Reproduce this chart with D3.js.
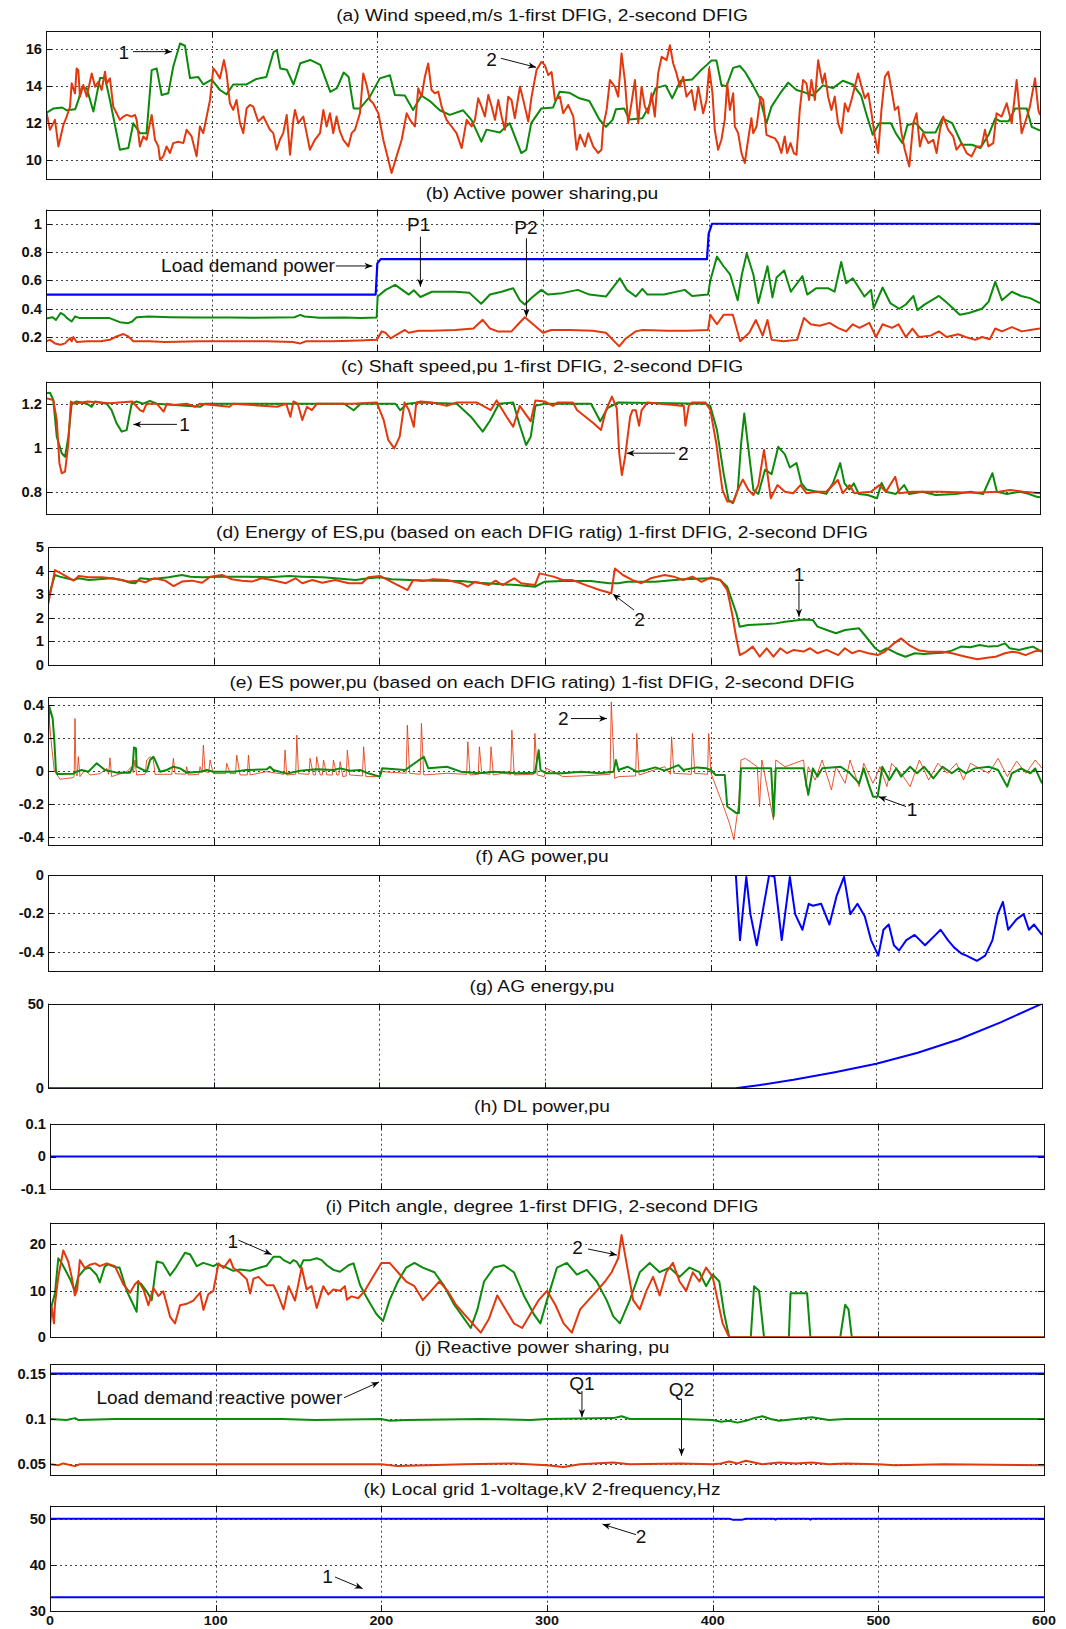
<!DOCTYPE html>
<html><head><meta charset="utf-8">
<script src="https://cdn.jsdelivr.net/npm/d3@7"></script>
<style>body{margin:0;background:#fff}svg{display:block}</style>
</head><body><svg id="c" width="1066" height="1629"></svg>
<script>
// ---------------- DATA ----------------
const timeTicks = [0,100,200,300,400,500,600];

// (a) wind speed, m/s
const windFirst = [[0,12.54],[4.6,12.8],[9.8,12.85],[12.5,12.7],[17.6,12.75],[19.6,13.26],[21.5,13.9],[24.6,13.9],[28.6,12.63],[32.6,14.45],[35.6,14.45],[38.6,13.26],[44.6,10.56],[49.7,10.65],[52.7,12.0],[56.7,11.46],[60.7,11.46],[63.8,14.88],[66.8,14.97],[69.8,13.53],[73.8,13.62],[76.8,15.06],[80.9,16.32],[83.9,16.2],[86.9,14.45],[91.9,14.5],[95,14.1],[100,14.36],[105,13.8],[109,13.56],[113,14.1],[121,14.1],[127,14.4],[133,14.5],[137.4,15.87],[139.4,15.95],[141.4,14.97],[145.4,14.9],[149.4,14.1],[153.5,15.25],[159.5,15.43],[165.6,15.16],[171.6,13.7],[175.6,13.9],[179.7,14.75],[182.7,14.5],[185.7,12.8],[189.5,12.8],[195.5,13.44],[201.5,14.43],[207.6,14.6],[210.6,13.53],[216.6,13.5],[221.6,12.72],[226.6,13.5],[231.7,13.2],[237.7,12.7],[243.7,12.45],[251.8,12.7],[256.8,12.18],[262.8,11.0],[265.9,11.65],[273.9,11.5],[279.9,12.0],[286.9,10.38],[289.9,10.55],[292.9,12.0],[299,12.8],[306,12.85],[310,13.7],[316,13.65],[322,13.35],[328,13.2],[334,12.2],[338,11.8],[342,12.18],[344,12.75],[349,12.8],[352,12.2],[360,12.27],[364,12.9],[368,13.9],[374,14.05],[378,13.35],[383,14.3],[390,14.37],[395,14.84],[398.7,15.15],[401.7,15.4],[404.7,15.4],[407.7,14.07],[410.7,14.0],[414.8,15.0],[418.8,15.1],[421.8,14.8],[425.8,14.2],[430.9,13.35],[434.9,12.0],[437.9,12.9],[443,13.6],[448,14.2],[453,13.8],[457,13.7],[463,13.5],[469,14.05],[475,13.9],[481,14.3],[487,14.1],[492,13.5],[495,12.55],[499,11.37],[503,12.0],[510,12.0],[513,11.45],[517,10.92],[520,11.9],[525,12.0],[530,11.5],[537,11.5],[541,12.26],[547,12.0],[553,10.83],[559,10.83],[564,10.65],[569,11.37],[573,12.26],[576,12.1],[581,12.1],[585,12.8],[592,12.8],[595,11.8],[600,11.6]];
const windSecond = [[0,12.72],[2.4,11.64],[5.4,12.18],[7.5,10.74],[10.5,11.91],[12.5,12.36],[14.5,12.9],[15.5,14.16],[17.5,13.62],[18.5,14.97],[19.5,14.88],[20.5,13.44],[22.5,14.07],[24.6,13.44],[27.6,14.7],[29.6,13.98],[31.6,14.25],[33.6,13.8],[35.6,14.79],[36.6,14.16],[38.6,14.43],[40.6,12.9],[42.6,12.54],[44.6,12.18],[46.7,12.36],[48.7,12.45],[51.7,12.36],[53.7,12.45],[54.7,12.18],[56.7,10.74],[58.7,11.28],[60.7,11.1],[63.8,12.45],[65.8,11.1],[67.8,10.74],[68.8,10.02],[70.8,10.2],[72.8,10.74],[74.8,10.38],[76.8,10.92],[79.9,10.99],[82.9,10.92],[84.9,11.64],[87.9,11.28],[90.9,10.2],[92.9,11.82],[94.9,11.46],[97,12.36],[99,13.26],[101,14.97],[102.6,14.79],[105,14.43],[107.4,15.42],[109,14.7],[111,13.08],[113,12.72],[115,13.26],[117.1,12.0],[119.1,11.46],[121.1,12.81],[123.1,12.99],[125.1,12.9],[128.1,12.09],[131.2,12.36],[133.2,12.0],[135.2,11.64],[137.2,11.46],[139.2,10.56],[141.2,11.1],[143.2,11.46],[145.3,12.45],[147.3,10.29],[149.3,12.18],[150.3,12.72],[152.3,12.0],[155.3,12.36],[157.3,11.46],[159.3,10.56],[162.3,11.1],[165.4,11.46],[167.4,12.72],[169.4,11.82],[171.4,12.54],[173.4,11.46],[175.4,12.36],[177.4,11.55],[179.5,11.1],[182.5,10.74],[184.5,11.46],[186.5,11.64],[189.5,12.54],[191.5,14.7],[193.5,14.07],[195.5,13.26],[197.5,13.08],[200.6,12.54],[203.6,11.1],[205.6,10.38],[208.6,9.3],[211.6,10.2],[214.7,11.1],[217.7,12.54],[219.7,12.18],[222.7,11.82],[224.7,13.89],[226.7,13.44],[228.7,14.52],[230.7,15.24],[232.7,13.8],[234.7,13.62],[236.8,13.71],[238.8,12.9],[241.8,12.18],[244.8,11.82],[247.8,11.46],[250.9,10.65],[253.9,12.18],[256.9,11.82],[258.9,12.18],[260.9,13.35],[262.9,12.9],[264.9,12.36],[267,13.53],[269,12.9],[271,12.18],[273,13.26],[275,12.36],[277,11.64],[279,13.44],[281,13.26],[283,12.27],[286.1,13.98],[288.1,13.26],[291.1,12.09],[293.1,13.44],[296.1,14.88],[299.1,15.33],[301.1,15.15],[303.2,14.61],[305.2,14.77],[307.2,13.26],[310.2,13.44],[312.2,12.54],[315.2,12.99],[318.3,12.36],[320.3,10.56],[322.3,11.37],[325.3,10.74],[327.3,11.46],[330.3,10.74],[333.3,10.38],[335.3,10.56],[336.3,11.82],[338.4,12.72],[340.4,14.34],[343.4,13.98],[345.4,13.44],[347.4,15.78],[349.4,14.34],[351.4,12.0],[353.4,13.08],[355.5,14.34],[357.5,12.0],[359.5,13.98],[361.5,12.9],[363.5,12.54],[365.5,13.62],[367.5,12.36],[369.5,14.7],[371.6,15.6],[374.6,15.42],[376.6,16.23],[378.6,15.24],[380.6,14.7],[382.6,13.98],[384.6,14.52],[386.6,13.44],[389.7,13.8],[391.7,12.72],[393.7,13.98],[396.7,12.54],[398.7,13.26],[400.3,14.97],[402.3,13.62],[403.7,11.64],[405.7,10.56],[407.7,11.1],[409.7,12.18],[411.2,14.16],[412.8,12.72],[414.8,13.62],[415.8,11.82],[417.8,11.46],[419.8,10.38],[421.8,9.84],[423.8,11.1],[425.8,12.27],[426.9,11.46],[428.9,11.82],[431.3,13.44],[432.9,13.26],[434.9,11.37],[436.9,11.28],[439.9,11.19],[441.9,10.92],[443.9,10.38],[445.9,11.28],[447.4,10.38],[449.4,10.92],[451.4,10.38],[453,10.29],[455,12.72],[457,14.34],[459,14.16],[460.6,13.26],[462,14.34],[464.1,13.26],[466.1,15.42],[467.5,14.7],[468.7,14.16],[470.1,14.7],[472.1,13.44],[474.1,12.72],[476.1,13.44],[478.1,12.0],[480.2,11.46],[482.2,13.08],[484.2,12.63],[486.2,13.26],[488.2,13.98],[490.2,14.7],[492.3,13.98],[494.3,13.35],[496.3,13.62],[498.3,12.54],[500.3,11.28],[502.3,10.38],[504.3,12.72],[506.4,14.52],[508.4,14.79],[510.4,13.8],[512.4,12.72],[514.4,12.9],[516.4,11.46],[518.4,10.56],[521.1,9.65],[523.5,12.0],[525.5,12.54],[527.5,10.74],[529.5,11.46],[532.6,10.92],[535.6,11.1],[537.6,10.38],[539.6,11.64],[541.6,12.36],[544.6,11.64],[547.6,11.28],[549.6,10.56],[552.7,10.92],[555.7,10.38],[558.7,10.2],[561.7,10.74],[564.7,10.74],[566.8,11.64],[568.8,10.74],[571.8,10.92],[573.8,12.54],[576.8,12.36],[579.9,13.08],[582.9,12.0],[585.9,14.34],[588.9,11.46],[590.9,12.0],[593.9,12.9],[597,14.43],[599,12.72],[600,12.45]];
const windTicks = [10,12,14,16];

// (b) active power sharing, pu
const loadDemandP = [[0,0.5],[199,0.5],[200,0.72],[202,0.75],[399,0.75],[400,0.93],[402,1.0],[600,1.0]];
const activeP1 = [[0,0.33],[4,0.34],[6,0.32],[8.8,0.37],[11,0.355],[12.5,0.335],[15.5,0.31],[17.5,0.345],[20,0.335],[30,0.335],[38,0.335],[44.6,0.305],[49.7,0.298],[52,0.31],[54.7,0.34],[62,0.345],[75,0.34],[90,0.338],[110,0.338],[125,0.336],[140,0.338],[150,0.34],[153.5,0.357],[156,0.345],[165,0.336],[180,0.338],[190,0.335],[199.6,0.338],[200.2,0.486],[205,0.533],[210.8,0.568],[215,0.533],[219,0.5],[222,0.53],[226,0.483],[233,0.52],[247,0.52],[255.6,0.512],[262.7,0.435],[268,0.5],[275,0.52],[282,0.545],[286,0.46],[289,0.43],[293,0.476],[299,0.533],[303,0.5],[311.5,0.51],[321,0.533],[328,0.5],[338,0.486],[346.4,0.615],[350.6,0.533],[356,0.486],[360,0.54],[363,0.5],[373,0.5],[385.6,0.533],[390,0.49],[399.6,0.5],[401,0.6],[405,0.768],[409,0.7],[413,0.64],[417.5,0.46],[420,0.64],[423,0.79],[427,0.64],[430,0.44],[435.5,0.7],[438.5,0.48],[441,0.62],[445.6,0.67],[449.6,0.52],[456.6,0.63],[459.5,0.5],[465,0.545],[472,0.545],[476,0.52],[480,0.73],[483,0.58],[487,0.615],[494,0.486],[498,0.533],[499.6,0.404],[505,0.55],[509.6,0.44],[515,0.4],[519,0.43],[523.6,0.49],[526,0.39],[530,0.427],[539,0.49],[544,0.44],[551.6,0.357],[557,0.37],[565,0.4],[569,0.45],[573,0.59],[577,0.46],[583,0.52],[588.6,0.49],[594,0.475],[600,0.44]];
const activeP2 = [[0,0.17],[2.4,0.18],[5.4,0.155],[8.8,0.146],[11.5,0.155],[14.5,0.192],[15.5,0.17],[16.5,0.2],[18.5,0.165],[25,0.17],[33,0.17],[38.6,0.181],[42.6,0.204],[46.7,0.221],[49.7,0.204],[52.7,0.17],[62,0.17],[72,0.165],[93,0.17],[113,0.17],[133,0.17],[149,0.165],[153.5,0.155],[157,0.17],[173,0.17],[189.5,0.175],[199.6,0.18],[202.7,0.24],[205,0.23],[208,0.19],[216.6,0.25],[219,0.23],[225,0.245],[233,0.245],[247,0.25],[258,0.26],[263.6,0.322],[268,0.26],[272.6,0.24],[281,0.24],[285,0.29],[289,0.34],[294,0.29],[300,0.23],[305,0.25],[316,0.25],[330,0.245],[338,0.23],[346,0.134],[350,0.19],[356,0.24],[360,0.25],[375,0.245],[387,0.245],[399.6,0.25],[401,0.357],[405,0.29],[409,0.357],[414.6,0.357],[419,0.17],[424.5,0.23],[428.5,0.32],[432.6,0.21],[435.5,0.32],[438,0.18],[445,0.17],[453.4,0.18],[457.5,0.334],[461.6,0.29],[467,0.28],[473,0.3],[478,0.265],[483,0.24],[487,0.29],[491,0.265],[497,0.3],[501,0.2],[505,0.29],[510.6,0.265],[514.6,0.29],[519,0.2],[523,0.26],[527,0.2],[534,0.21],[539,0.24],[543.6,0.2],[550.6,0.22],[555,0.2],[561,0.18],[565,0.2],[569.7,0.185],[573,0.26],[577,0.24],[583,0.27],[589,0.24],[594,0.25],[600,0.26]];
const activeTicks = [0.2,0.4,0.6,0.8,1];

// (c) shaft speed, pu
const shaftFirst = [[0,1.247],[2.4,1.25],[4.4,1.217],[6.5,1.05],[9.5,0.975],[11.5,0.959],[13.5,1.05],[15.5,1.2],[18.5,1.21],[24.6,1.2],[27.6,1.186],[29.6,1.21],[36.6,1.2],[39.6,1.171],[42.6,1.111],[45.7,1.073],[48.7,1.08],[51.7,1.2],[54.7,1.21],[58.7,1.2],[62.7,1.213],[66.8,1.2],[93,1.186],[96,1.2],[120,1.2],[150,1.2],[180,1.2],[185.7,1.17],[190,1.2],[211,1.2],[213.8,1.17],[218,1.2],[226,1.205],[248,1.2],[256.6,1.14],[263.6,1.073],[267.8,1.12],[273.4,1.2],[282,1.205],[285.6,1.11],[289.8,1.012],[292.6,1.05],[295.4,1.19],[301,1.2],[329,1.2],[334.6,1.12],[339,1.18],[345,1.205],[398,1.2],[401,1.19],[405,1.08],[409,0.884],[412,0.762],[414.6,0.748],[417.6,0.81],[419.6,1.02],[421.5,1.156],[423.6,1.02],[427,0.808],[430,0.79],[434,0.9],[438,0.88],[442,1.004],[446,0.97],[449,0.91],[453,0.93],[456,0.838],[459,0.81],[465.4,0.8],[471,0.79],[475,0.838],[479.4,0.93],[482,0.838],[485,0.81],[487.6,0.838],[490.6,0.79],[496,0.785],[501.6,0.77],[504.4,0.84],[507,0.8],[513,0.79],[518,0.83],[521,0.79],[529,0.8],[537,0.785],[549,0.79],[558,0.8],[565.7,0.79],[571.3,0.884],[574,0.8],[580,0.79],[588,0.8],[593,0.79],[598,0.777],[600,0.775]];
const shaftSecond = [[0,1.225],[4.4,1.217],[6.5,1.126],[8.1,0.929],[9.5,0.884],[11.5,0.891],[13.5,1.02],[15,1.21],[17,1.2],[25,1.21],[38.6,1.202],[52,1.21],[56.7,1.171],[58.7,1.164],[60.7,1.2],[66.8,1.2],[71,1.164],[73,1.2],[77,1.194],[85,1.2],[90,1.186],[93,1.2],[110.7,1.186],[113,1.2],[139.5,1.186],[145,1.2],[147.5,1.141],[149.4,1.21],[152,1.2],[154.7,1.126],[157.5,1.186],[160.5,1.171],[163.5,1.2],[185,1.2],[199.6,1.206],[203.8,1.126],[206.6,1.035],[210.2,0.997],[213.5,1.05],[216.4,1.206],[219,1.171],[222,1.095],[223.5,1.206],[226,1.21],[233,1.206],[242,1.19],[248,1.206],[260,1.206],[268.5,1.171],[272,1.215],[278,1.141],[282,1.095],[286,1.19],[292.6,1.12],[295.4,1.215],[301,1.21],[306,1.19],[309,1.206],[318,1.206],[320.5,1.171],[330.5,1.111],[335,1.08],[338,1.17],[341.6,1.232],[344.5,1.18],[346,0.975],[347.6,0.876],[349.6,0.96],[352.6,1.141],[354,1.17],[356,1.17],[358,1.1],[359.5,1.17],[363,1.206],[385,1.19],[386,1.1],[388,1.19],[390,1.206],[398,1.206],[401,1.171],[404.6,1.02],[408.3,0.808],[411.3,0.755],[415,0.755],[417.6,0.808],[420.6,0.855],[424,0.808],[427,0.785],[430,0.83],[433.4,0.99],[435.5,0.88],[437.5,0.77],[441.5,0.83],[446,0.8],[451,0.793],[455.4,0.83],[459,0.793],[465,0.8],[471,0.8],[478,0.853],[481,0.793],[485,0.83],[488,0.793],[498,0.8],[503,0.83],[507,0.8],[512.6,0.868],[515,0.793],[523,0.8],[540,0.8],[560,0.795],[575,0.8],[582,0.808],[590,0.8],[600,0.793]];
const shaftTicks = [0.8,1,1.2];

// (d) energy of ES, pu
const energyFirst = [[0,2.76],[2,3.3],[4.2,3.82],[7,3.75],[15.5,3.61],[18.5,3.68],[24.6,3.61],[30.6,3.64],[38.6,3.68],[44.6,3.61],[49.7,3.49],[52.7,3.47],[55.7,3.68],[62,3.64],[72.8,3.72],[80.9,3.82],[86,3.75],[93,3.72],[105,3.75],[113,3.75],[121,3.75],[133,3.72],[145.6,3.78],[153.5,3.75],[165.6,3.72],[173.4,3.68],[185.7,3.61],[193.3,3.68],[200.3,3.72],[207.3,3.64],[218.5,3.61],[232.4,3.58],[249.2,3.56],[260.4,3.49],[271.6,3.44],[282.8,3.39],[293.9,3.32],[299.5,3.53],[310.7,3.56],[327.5,3.56],[338.7,3.47],[344.3,3.47],[349.8,3.53],[366.6,3.53],[383.4,3.64],[400.2,3.68],[405.8,3.61],[410,3.32],[412.7,2.76],[415.5,2.19],[417.5,1.62],[422.5,1.69],[433.7,1.73],[439.3,1.76],[444.9,1.83],[456.1,1.93],[461.7,1.9],[464.5,1.62],[470.1,1.48],[475.6,1.34],[481.2,1.48],[489.6,1.55],[493.8,1.19],[499.4,0.7],[502.2,0.55],[506.4,0.7],[512.1,0.49],[517.6,0.34],[523.2,0.49],[528.8,0.46],[534.4,0.49],[540,0.51],[545.5,0.6],[551.1,0.77],[556.7,0.74],[562.3,0.84],[567.9,0.77],[573.5,0.8],[577.7,0.91],[580.5,0.7],[586.1,0.63],[590.3,0.7],[594.5,0.77],[598.7,0.6],[600,0.55]];
const energySecond = [[0,2.54],[4.2,4.03],[7.9,3.89],[15.5,3.58],[18.5,3.78],[24.6,3.72],[32.6,3.72],[38.6,3.68],[48.7,3.54],[54.7,3.58],[58.7,3.51],[63.8,3.68],[70.8,3.58],[75.8,3.35],[80.9,3.54],[86.9,3.58],[93,3.49],[98,3.75],[105,3.82],[111,3.64],[117,3.58],[123,3.54],[129,3.68],[135,3.61],[143.6,3.47],[149.4,3.68],[153.5,3.47],[159.5,3.61],[165.6,3.49],[173.4,3.61],[181.6,3.47],[189.5,3.47],[193.3,3.72],[200.3,3.78],[207.3,3.53],[217,3.18],[220.4,3.61],[226,3.56],[232.4,3.64],[240.8,3.61],[249.2,3.47],[253.4,3.32],[257.6,3.53],[266,3.39],[270.2,3.58],[274.4,3.39],[281.4,3.68],[285.6,3.47],[293.9,3.39],[296.7,3.89],[305.1,3.75],[310.7,3.61],[316.3,3.61],[324.7,3.39],[333,3.18],[340,3.04],[342.2,4.1],[347,3.82],[352.6,3.61],[358.2,3.47],[363.8,3.68],[372.2,3.82],[377.8,3.75],[383.4,3.61],[389,3.75],[394.5,3.53],[400.2,3.72],[405.8,3.61],[410,3.18],[412.9,2.19],[415.7,1.05],[417.6,0.41],[421.3,0.55],[425.4,0.77],[429.6,0.34],[433.8,0.7],[437.9,0.34],[442,0.7],[446.1,0.49],[450.2,0.63],[456,0.56],[460,0.7],[464.4,0.49],[470,0.63],[477,0.41],[481,0.7],[485.3,0.49],[489.6,0.6],[495.2,0.49],[500.8,0.41],[505,0.55],[510.7,0.91],[514.9,1.12],[520.5,0.8],[526,0.6],[531.7,0.55],[540,0.55],[545.6,0.49],[554,0.34],[561,0.23],[568,0.31],[572,0.34],[577.6,0.49],[582,0.55],[586,0.51],[590,0.41],[595.6,0.57],[600,0.6]];
const energyTicks = [0,1,2,3,4,5];

// (e) ES power, pu
const esPowerFirst = [[0,0.2],[0.8,0.39],[2.8,0.32],[3.8,0.19],[4.8,0.0],[5.6,-0.018],[15.3,-0.016],[17.3,-0.004],[20.3,0.006],[24.4,-0.004],[29.4,0.047],[31.4,0.03],[34.4,0.006],[41.5,-0.01],[49.5,-0.01],[51.1,0.026],[51.9,0.143],[53.1,0.137],[53.5,0.026],[59.6,-0.004],[61.6,0.067],[63.6,0.087],[64.6,0.067],[67.6,-0.004],[71.7,0.006],[75.7,0.026],[79.7,0.016],[83.7,-0.01],[91.8,-0.004],[95.8,0.006],[99.8,-0.004],[111.9,-0.004],[119.9,0.006],[132,0.01],[134,0.026],[136,0.006],[144.1,-0.016],[152.2,0.002],[162.2,0.01],[172.3,0.006],[176.3,0.016],[182.4,0.002],[188.4,0.006],[193.3,-0.014],[200.3,-0.034],[201.7,0.016],[215.6,0.006],[226.8,0.087],[229.6,0.016],[240.8,0.026],[249.2,-0.004],[260.4,-0.014],[268.8,-0.004],[282.8,-0.014],[294,-0.01],[296.2,0.127],[297.3,0.006],[301,-0.014],[310.7,-0.014],[321.9,-0.004],[333,-0.014],[341.4,-0.004],[342.8,0.067],[344.3,0.006],[349.8,0.026],[355.4,-0.004],[361,0.006],[366.6,0.022],[372.2,0.002],[380.6,0.036],[383.4,0.006],[391.8,0.022],[397.4,0.016],[400.2,0.006],[403,-0.024],[408.5,-0.024],[410,-0.216],[412.7,-0.236],[415.5,-0.256],[417,-0.256],[418.3,0.016],[436.5,0.016],[438,-0.277],[439.3,0.016],[456.1,0.016],[458.9,-0.145],[461.7,0.016],[464.5,-0.034],[467.3,0.016],[478.5,0.026],[484.1,-0.014],[489.6,-0.075],[492.4,0.016],[495.2,-0.075],[498,-0.156],[500.8,-0.156],[503.6,0.026],[507.8,-0.055],[512.1,0.016],[514.9,-0.034],[520.4,0.026],[524.6,-0.014],[528.8,0.026],[534.4,-0.045],[540,0.026],[545.5,-0.014],[549.7,0.016],[553.9,-0.014],[559.5,0.016],[567.9,0.026],[573.5,0.006],[579,-0.095],[581.8,-0.014],[587.4,0.016],[593,-0.014],[595.9,0.016],[600,-0.075]];
const esPowerSecond = [[0,0.43],[1.6,0.21],[3.8,0.0],[6.2,-0.034],[7.2,-0.05],[15.3,-0.04],[15.8,-0.03],[16.3,0.319],[16.9,-0.016],[17.6,-0.03],[18.3,0.087],[19.3,-0.034],[22.3,0.006],[25.4,-0.024],[31.4,-0.016],[35.4,0.016],[36.6,-0.02],[37.4,0.08],[38.4,-0.034],[47.5,-0.004],[50.5,0.026],[51.5,-0.01],[52.5,0.067],[53.5,-0.024],[58.6,-0.02],[59.6,0.067],[61.6,0.087],[63.6,0.067],[64.6,-0.02],[74.7,-0.02],[75.7,0.077],[76.7,-0.016],[83,-0.02],[83.7,0.026],[84.7,-0.024],[91,-0.02],[91.8,0.026],[93,-0.01],[93.8,0.158],[94.8,-0.004],[97,-0.01],[97.8,0.067],[99.8,-0.016],[107.2,-0.016],[107.9,0.047],[109.9,-0.016],[113.2,-0.016],[113.9,0.097],[115.9,-0.024],[120.3,-0.024],[121,0.097],[122,-0.024],[132,-0.004],[142.4,-0.02],[143.1,0.127],[144.1,-0.024],[149.5,-0.02],[150.2,0.218],[151.2,-0.016],[157.5,-0.02],[158.2,0.077],[160.2,-0.024],[161.5,-0.024],[162.2,0.087],[164.3,-0.024],[165.6,-0.024],[166.3,0.067],[168.3,-0.024],[171.6,-0.024],[172.3,0.067],[174.3,-0.024],[175.6,-0.024],[176.3,0.057],[178,-0.034],[180,-0.03],[180.7,0.127],[182.1,-0.024],[189.8,-0.03],[190.5,0.147],[191.9,-0.034],[200.3,-0.034],[201.7,-0.004],[216.2,-0.014],[216.9,0.279],[218.3,-0.014],[224.7,-0.02],[225.4,0.289],[226.8,-0.024],[240.8,-0.014],[252.7,-0.02],[253.4,0.178],[254.8,-0.024],[259.7,-0.02],[260.4,0.147],[261.8,-0.014],[266.7,-0.02],[267.4,0.147],[268.8,-0.024],[274.4,-0.014],[279.3,-0.02],[280,0.248],[281.4,-0.024],[293.2,-0.02],[293.9,0.228],[295.3,-0.024],[299.5,-0.034],[300.9,0.016],[310.7,-0.034],[321.9,-0.03],[333,-0.024],[339.3,-0.02],[340,0.42],[342,-0.045],[344.3,-0.034],[354.7,-0.03],[355.4,0.228],[356.8,-0.024],[372.2,0.026],[375.7,-0.02],[376.4,0.208],[377.8,-0.014],[388.3,-0.02],[389,0.228],[390.4,-0.014],[398.1,-0.02],[398.8,0.228],[400.2,-0.014],[408.5,-0.236],[411.3,-0.317],[414,-0.418],[416.9,-0.196],[418.3,0.067],[421,0.077],[428.1,0.026],[429.5,-0.216],[430.9,0.067],[437.9,-0.297],[439.3,0.067],[444.9,0.026],[456.1,0.067],[457.5,-0.095],[458.9,0.026],[463.1,-0.055],[467.3,0.067],[472.9,-0.115],[475.6,0.026],[481.2,-0.075],[484.1,0.067],[489.6,-0.095],[492.4,0.047],[498,-0.075],[502.2,0.026],[506.4,-0.095],[509.2,0.047],[514.9,-0.014],[520.4,-0.095],[526,0.067],[531.6,-0.055],[537.2,0.047],[542.8,-0.014],[548.4,0.047],[552.6,-0.055],[556.8,0.047],[562.3,0.016],[567.9,-0.014],[573.5,0.077],[579.1,-0.034],[584.7,0.06],[590.3,-0.014],[595.9,0.067],[600,0.016]];
const esPowerTicks = [-0.4,-0.2,0,0.2,0.4];

// (f) AG power, pu
const agPower = [[0,0],[410.2,0],[415.2,0],[417.7,-0.339],[421.5,-0.01],[424,-0.204],[427.8,-0.366],[432.2,-0.15],[435.3,0],[438.5,-0.01],[442.9,-0.339],[447.8,-0.01],[451,-0.204],[455.4,-0.285],[459.2,-0.15],[461.7,-0.16],[466.7,-0.15],[471.7,-0.258],[476.1,-0.107],[480.5,-0.01],[484.3,-0.204],[488.6,-0.15],[493,-0.215],[496.8,-0.339],[501.2,-0.42],[504.3,-0.285],[507.5,-0.258],[510.6,-0.366],[513.7,-0.393],[518.1,-0.339],[523.1,-0.312],[529.4,-0.366],[535.7,-0.312],[538.8,-0.285],[543.2,-0.339],[546.9,-0.377],[551.3,-0.409],[554.4,-0.42],[560.7,-0.447],[565.7,-0.42],[570.1,-0.339],[573.3,-0.204],[576.4,-0.14],[579.6,-0.285],[584.6,-0.231],[588.9,-0.204],[592.1,-0.285],[595.2,-0.258],[600,-0.312]];
const agPowerTicks = [-0.4,-0.2,0];

// (g) AG energy, pu
const agEnergy = [[0,0],[415,0],[430,2],[450,5],[475,9.5],[500,14.5],[525,21],[550,29],[575,39],[600,50]];
const agEnergyTicks = [0,50];

// (h) DL power, pu
const dlPower = [[0,0],[600,0]];
const dlTicks = [-0.1,0,0.1];

// (i) pitch angle, degree
const pitchFirst = [[0,5.5],[3,9.46],[5,17.0],[7,16.0],[12,12.6],[15,10],[17,13],[21,14.7],[24,15],[28.2,13.4],[30,11.8],[33,15.2],[35,15.7],[40,15],[42,15],[46.3,10],[52.3,5.5],[53.3,11.8],[55,11.5],[59,9.5],[61.4,8.0],[64.4,16.3],[68,16],[72.5,13.3],[76,15],[81.5,18.2],[84.6,17.8],[88.6,15.3],[92.6,16],[98.6,15.3],[100.6,15.7],[106.6,15],[110.7,14.3],[114.7,14.6],[120.8,14.3],[126.8,15],[130.8,15.4],[134.9,17.3],[138.9,17.3],[141,16.6],[145,15.9],[146.9,16.6],[149,16.2],[151,15],[153,16.6],[157,16.6],[161,17],[164,16.6],[167.1,15.5],[171.1,14.5],[175,14.1],[180.2,15.5],[183.2,15.9],[187.2,11.2],[192,8],[197,5],[201,3.5],[205,8],[210,12],[215,15],[220,16],[225,15],[232,14],[238,11],[244,7],[250,4],[254,2],[258,6],[262,12],[268,15],[274,15.5],[280,14],[286,9],[292,5],[296,3],[300,8],[306,15],[312,16],[318,13.5],[324,14.5],[330,12],[336,8],[340,4.5],[344,3],[350,8],[356,14],[362,16],[368,14],[374,15],[380,13],[386,15],[392,14],[396,11],[400,13.5],[404,12],[407,5],[410,0],[423,0],[425,11],[428,10],[431,0],[446,0],[447,9.5],[457,9.5],[459,0],[477,0],[480,7],[482,6],[484,0],[600,0]];
const pitchSecond = [[0,2.3],[1,6.5],[2.4,3],[3,7.2],[5,13],[8,18.7],[11,16.3],[13.1,13],[15,9.0],[16.4,10.2],[18,16.6],[21,14.9],[24,15.6],[27.2,15.9],[30,15.3],[34.2,15.9],[39.2,15.3],[44.3,11.4],[48.3,9.6],[51.3,11.4],[53.3,12.1],[56.4,10.3],[59.4,6.9],[62.4,10.6],[65.4,8.9],[68.4,9.9],[72.5,4.4],[75.5,3.0],[78.5,6.9],[82.5,7.2],[86.5,7.9],[90.6,9.6],[92.6,5.9],[95.6,9.3],[98.6,10],[101.7,15.9],[104.7,14.9],[108.7,16.8],[110.7,14.9],[114.7,13.9],[118.8,12.5],[120.8,9.4],[122.8,12.6],[125.8,13],[130.8,11.2],[134.9,11.2],[136.9,9.8],[141,6.0],[144,11.0],[147.9,7.9],[151.9,15],[154.9,10.3],[157.9,11],[161,6.3],[165,11],[168,9.2],[171,10.3],[175,10],[178,11],[179.2,8.1],[182,8.8],[186,8.4],[190,10],[195,13],[200,16],[205,16],[210,14],[215,12],[220,11],[225,8],[230,10],[235,12],[240,10],[245,7],[250,5],[255,3],[260,1],[265,4],[270,9],[275,6],[280,3],[285,2],[290,5],[295,8],[300,10],[305,7],[310,3],[315,1],[320,6],[325,8],[330,10],[335,12],[339,14],[343,17],[345,22],[348,16],[352,8],[356,6],[360,10],[364,13],[368,9],[372,14],[376,16],[380,12],[384,10],[388,14],[392,12],[396,15],[400,13],[403,8],[406,3],[410,0],[600,0]];
const pitchTicks = [0,10,20];

// (j) reactive power sharing, pu
const loadDemandQ = [[0,0.15],[600,0.15]];
const reactiveQ1 = [[0,0.1],[10,0.099],[15,0.101],[17,0.099],[40,0.1],[80,0.1],[100,0.1],[140,0.1],[160,0.099],[200,0.1],[205,0.098],[215,0.099],[260,0.1],[290,0.099],[300,0.1],[340,0.101],[345,0.103],[350,0.1],[380,0.1],[400,0.099],[405,0.097],[410,0.098],[415,0.096],[420,0.098],[425,0.101],[430,0.103],[435,0.1],[440,0.098],[450,0.1],[460,0.102],[470,0.099],[480,0.1],[500,0.1],[520,0.1],[560,0.1],[600,0.1]];
const reactiveQ2 = [[0,0.05],[5,0.049],[8,0.051],[15,0.048],[18,0.05],[50,0.05],[100,0.05],[200,0.05],[210,0.048],[250,0.05],[280,0.051],[300,0.049],[310,0.047],[320,0.05],[340,0.052],[350,0.05],[380,0.051],[400,0.05],[405,0.051],[410,0.053],[415,0.051],[420,0.054],[425,0.052],[430,0.05],[440,0.052],[450,0.051],[460,0.052],[470,0.05],[480,0.051],[500,0.05],[510,0.049],[540,0.05],[600,0.049]];
const reactiveTicks = [0.05,0.1,0.15];

// (k) local grid: voltage kV, frequency Hz
const gridVoltage = [[0,33],[600,33]];
const gridFrequency = [[0,50],[410,50],[412,49.8],[418,49.8],[420,50],[437,50],[438,49.8],[439,50],[458,50],[459,49.8],[460,50],[600,50]];
const gridTicks = [30,40,50];

// ---------------- DRAWING ----------------
const GREEN = "#0b8a0b", RED = "#e3380e", BLUE = "#0000ff";
const svg = d3.select("#c");
const FONT = "'Liberation Sans', Arial, Helvetica, sans-serif";
const defs = svg.append("defs");
defs.append("marker")
  .attr("id","arr").attr("viewBox","0 0 10 10").attr("refX",10).attr("refY",5)
  .attr("markerWidth",11).attr("markerHeight",8).attr("markerUnits","userSpaceOnUse")
  .attr("orient","auto")
  .append("path").attr("d","M0,1 L10,5 L0,9 L3,5 Z").attr("fill","#000");

function stext(parent, x, y, str, size, sx, anchor, weight) {
  return parent.append("text")
    .attr("transform", `translate(${x},${y}) scale(${sx},1)`)
    .attr("dy","0.35em").attr("text-anchor", anchor || "middle")
    .attr("font-family", FONT).attr("font-size", size)
    .attr("font-weight", weight || "normal").attr("fill","#111").text(str);
}

const panels = [
 {id:"a", title:"(a) Wind speed,m/s 1-first DFIG, 2-second DFIG", titleY:15, left:46,right:1040,top:31,bottom:178.5,domain:[9,17],ticks:windTicks,hgrid:true,
  series:[{d:windFirst,c:GREEN,w:2},{d:windSecond,c:RED,w:2}],
  notes:[{text:"1",at:[47,15.85],from:[52.5,15.88],to:[76,15.88]},{text:"2",at:[269,15.47],from:[274.6,15.52],to:[295.8,15.03]}]},
 {id:"b", title:"(b) Active power sharing,pu", titleY:193, left:46,right:1040,top:209.6,bottom:351.2,domain:[0.1,1.1],ticks:activeTicks,hgrid:true,
  series:[{d:loadDemandP,c:BLUE,w:2.2},{d:activeP1,c:GREEN,w:2},{d:activeP2,c:RED,w:2}],
  notes:[{text:"Load demand power",anchor:"end",at:[174.4,0.702],from:[175,0.702],to:[197,0.702]},
         {text:"P1",at:[225,0.991],from:[226,0.909],to:[226,0.555]},
         {text:"P2",at:[289.7,0.975],from:[290,0.897],to:[290,0.344]}]},
 {id:"c", title:"(c) Shaft speed,pu 1-first DFIG, 2-second DFIG", titleY:366, left:46,right:1040,top:381.7,bottom:513.7,domain:[0.7,1.3],ticks:shaftTicks,hgrid:true,
  series:[{d:shaftFirst,c:GREEN,w:2},{d:shaftSecond,c:RED,w:2}],
  notes:[{text:"1",anchor:"start",at:[80.5,1.106],from:[79,1.106],to:[52.7,1.106]},{text:"2",anchor:"start",at:[381.5,0.975],from:[379.7,0.975],to:[350.5,0.975]}]},
 {id:"d", title:"(d) Energy of ES,pu (based on each DFIG ratig) 1-first DFIG, 2-second DFIG", titleY:532, left:48,right:1042,top:547.3,bottom:664.7,domain:[0,5],ticks:energyTicks,hgrid:true,
  series:[{d:energyFirst,c:GREEN,w:2},{d:energySecond,c:RED,w:2}],
  notes:[{text:"1",at:[453.3,3.82],from:[453.3,3.53],to:[453.3,2.04]},{text:"2",at:[357.1,1.9],from:[353.7,2.33],to:[340.9,3.01]}]},
 {id:"e", title:"(e) ES power,pu (based on each DFIG rating) 1-fist DFIG, 2-second DFIG", titleY:682, left:48,right:1042,top:697,bottom:845,domain:[-0.45,0.45],ticks:esPowerTicks,hgrid:true,
  series:[{d:esPowerSecond,c:RED,w:1,o:0.85},{d:esPowerFirst,c:GREEN,w:2}],
  notes:[{text:"2",at:[311,0.319],from:[315.7,0.319],to:[337.4,0.319]},{text:"1",at:[521.5,-0.236],from:[517.9,-0.216],to:[501.4,-0.156]}]},
 {id:"f", title:"(f) AG power,pu", titleY:856, left:48,right:1042,top:875,bottom:971,domain:[-0.5,0],ticks:agPowerTicks,hgrid:true,
  series:[{d:agPower,c:BLUE,w:2}], notes:[]},
 {id:"g", title:"(g) AG energy,pu", titleY:986, left:48,right:1042,top:1003.7,bottom:1088.3,domain:[0,50],ticks:agEnergyTicks,hgrid:false,
  series:[{d:agEnergy,c:BLUE,w:2}], notes:[]},
 {id:"h", title:"(h) DL power,pu", titleY:1106, left:50,right:1044,top:1123.7,bottom:1189.3,domain:[-0.1,0.1],ticks:dlTicks,hgrid:false,
  series:[{d:dlPower,c:BLUE,w:2}], notes:[]},
 {id:"i", title:"(i) Pitch angle, degree 1-first DFIG, 2-second DFIG", titleY:1206, left:50,right:1044,top:1222.7,bottom:1337.3,domain:[0,24.65],ticks:pitchTicks,hgrid:true,
  series:[{d:pitchFirst,c:GREEN,w:2},{d:pitchSecond,c:RED,w:2}],
  notes:[{text:"1",at:[110.3,20.6],from:[113.7,20.9],to:[133.8,17.8]},{text:"2",at:[318.5,19.2],from:[324.7,19],to:[342.2,17.7]}]},
 {id:"j", title:"(j) Reactive power sharing, pu", titleY:1347, left:50,right:1044,top:1364.3,bottom:1475,domain:[0.0382,0.1604],ticks:reactiveTicks,hgrid:true,
  series:[{d:loadDemandQ,c:BLUE,w:2.2},{d:reactiveQ1,c:GREEN,w:2},{d:reactiveQ2,c:RED,w:2}],
  notes:[{text:"Load demand reactive power",anchor:"end",at:[176.4,0.124],from:[177.5,0.1235],to:[198.6,0.1408]},
         {text:"Q1",at:[321.1,0.1386],from:[321.1,0.131],to:[321.1,0.1022]},
         {text:"Q2",at:[381.2,0.132],from:[381.2,0.1225],to:[381.2,0.0595]}]},
 {id:"k", title:"(k) Local grid 1-voltage,kV 2-frequency,Hz", titleY:1489, left:50,right:1044,top:1505.7,bottom:1611,domain:[30,52.82],ticks:gridTicks,hgrid:true,xlabels:true,
  series:[{d:gridFrequency,c:BLUE,w:2},{d:gridVoltage,c:BLUE,w:2}],
  notes:[{text:"2",at:[356.7,46.1],from:[353.7,46.55],to:[333.5,48.8]},{text:"1",at:[167.6,37.4],from:[172,37.37],to:[188.7,34.85]}]}
];

panels.forEach(p => {
  const x = d3.scaleLinear().domain([0,600]).range([p.left,p.right]);
  const y = d3.scaleLinear().domain(p.domain).range([p.bottom,p.top]);
  const g = svg.append("g");
  const clipId = "clip"+p.id;
  defs.append("clipPath").attr("id",clipId)
    .append("rect").attr("x",p.left).attr("y",p.top).attr("width",p.right-p.left).attr("height",p.bottom-p.top);

  g.selectAll(".vg").data(timeTicks.filter(t=>t>0&&t<600)).enter().append("line")
    .attr("x1",d=>Math.round(x(d))+0.5).attr("x2",d=>Math.round(x(d))+0.5)
    .attr("y1",p.top).attr("y2",p.bottom)
    .attr("stroke","#444").attr("stroke-width",1).attr("stroke-dasharray","2,3");
  if (p.hgrid) {
    g.selectAll(".hg").data(p.ticks).enter().append("line")
      .attr("x1",p.left).attr("x2",p.right)
      .attr("y1",d=>Math.round(y(d))+0.5).attr("y2",d=>Math.round(y(d))+0.5)
      .attr("stroke","#444").attr("stroke-width",1).attr("stroke-dasharray","2,3");
  }
  const line = d3.line().x(d=>x(d[0])).y(d=>y(d[1]));
  const sg = g.append("g").attr("clip-path",`url(#${clipId})`);
  p.series.forEach(s => {
    sg.append("path").attr("d",line(s.d)).attr("fill","none")
      .attr("stroke",s.c).attr("stroke-width",s.w).attr("stroke-opacity",s.o||1)
      .attr("stroke-linejoin","round");
  });
  g.append("rect").attr("x",p.left+0.5).attr("y",Math.round(p.top)+0.5)
    .attr("width",p.right-p.left).attr("height",Math.round(p.bottom)-Math.round(p.top))
    .attr("fill","none").attr("stroke","#111").attr("stroke-width",1);
  p.ticks.forEach(t => {
    const yy = Math.round(y(t))+0.5;
    g.append("line").attr("x1",p.left).attr("x2",p.left+6).attr("y1",yy).attr("y2",yy).attr("stroke","#111");
    g.append("line").attr("x1",p.right-6).attr("x2",p.right).attr("y1",yy).attr("y2",yy).attr("stroke","#111");
  });
  timeTicks.forEach(t => {
    const xx = Math.round(x(t))+0.5;
    g.append("line").attr("x1",xx).attr("x2",xx).attr("y1",p.bottom).attr("y2",p.bottom-6).attr("stroke","#111");
    g.append("line").attr("x1",xx).attr("x2",xx).attr("y1",p.top).attr("y2",p.top+6).attr("stroke","#111");
  });
  p.ticks.forEach(t => stext(g, p.left-4, y(t), String(t), 14, 1.05, "end", "bold"));
  if (p.xlabels) timeTicks.forEach(t => stext(g, x(t), p.bottom+9.5, String(t), 13, 1.1, "middle", "bold"));
  stext(svg, 542, p.titleY, p.title, 17, 1.13, "middle");
  p.notes.forEach(n => {
    svg.append("line").attr("x1",x(n.from[0])).attr("y1",y(n.from[1]))
      .attr("x2",x(n.to[0])).attr("y2",y(n.to[1]))
      .attr("stroke","#111").attr("stroke-width",1).attr("marker-end","url(#arr)");
    stext(svg, x(n.at[0]), y(n.at[1]), n.text, 18, 1.06, n.anchor || "middle");
  });
});
</script>
</body></html>
